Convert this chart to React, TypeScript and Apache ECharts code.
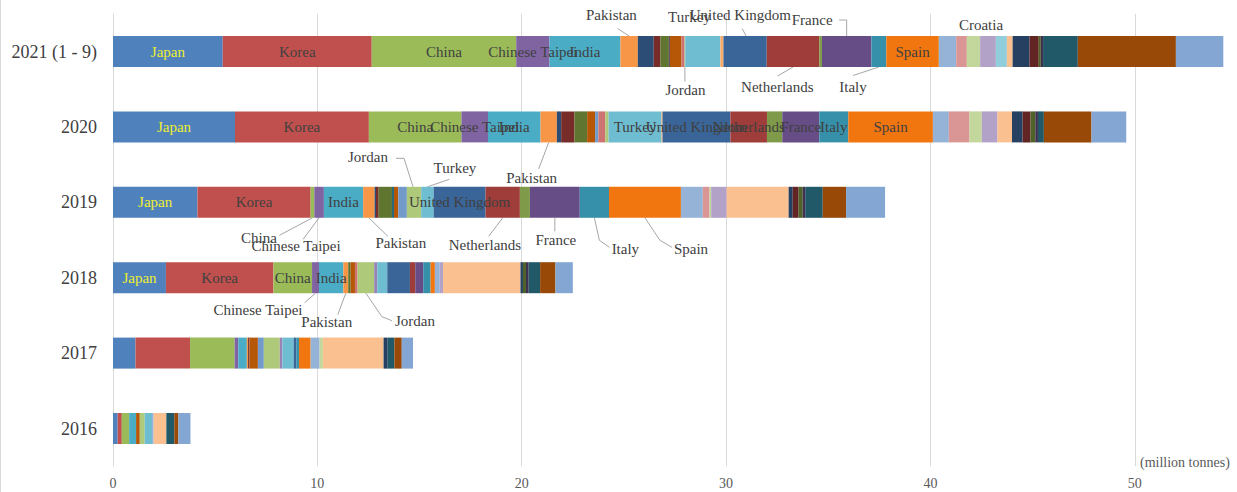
import { useEffect, useRef } from "react";
import * as echarts from "echarts";

// Years shown top to bottom
const years = ["2021 (1 - 9)", "2020", "2019", "2018", "2017", "2016"];

// Volumes by destination, million tonnes, ordered as years above
const japan = [5.37, 5.97, 4.13, 2.59, 1.1, 0.23];
const korea = [7.29, 6.55, 5.54, 5.26, 2.67, 0.2];
const china = [7.07, 4.53, 0.18, 1.89, 2.18, 0.36];
const chineseTaipei = [1.63, 1.3, 0.47, 0.34, 0.18, 0];
const india = [3.47, 2.57, 1.92, 1.19, 0.42, 0.34];
const pakistan = [0.85, 0.8, 0.56, 0.24, 0.06, 0];
const bangladesh = [0.78, 0.21, 0.07, 0, 0, 0];
const thailand = [0.33, 0.65, 0.13, 0, 0.07, 0];
const singapore = [0.41, 0.62, 0.65, 0.12, 0, 0];
const indonesia = [0.05, 0, 0, 0, 0, 0];
const uae = [0, 0, 0.1, 0, 0, 0];
const kuwait = [0.57, 0.39, 0.21, 0.21, 0.41, 0.18];
const egypt = [0, 0.16, 0.42, 0, 0.29, 0];
const israel = [0.15, 0.34, 0, 0.13, 0, 0];
const jordan = [0.03, 0.16, 0.7, 0.81, 0.78, 0.24];
const malta = [0, 0, 0, 0.15, 0.13, 0];
const turkey = [1.72, 2.59, 0.61, 0.49, 0.55, 0.36];
const greece = [0.15, 0.05, 0, 0, 0, 0];
const unitedKingdom = [2.12, 3.32, 2.54, 1.11, 0.13, 0];
const netherlands = [2.57, 1.79, 1.68, 0.26, 0, 0];
const belgium = [0.13, 0.75, 0.49, 0, 0, 0];
const france = [2.42, 1.81, 2.44, 0.39, 0, 0];
const italy = [0.73, 1.42, 1.43, 0.36, 0.13, 0];
const spain = [2.57, 4.14, 3.52, 0.21, 0.57, 0];
const portugal = [0.85, 0.78, 1.07, 0.24, 0.44, 0.08];
const poland = [0.52, 1.01, 0.33, 0, 0, 0];
const lithuania = [0.65, 0.6, 0.08, 0, 0.16, 0];
const croatia = [0.77, 0.77, 0.76, 0.16, 0, 0];
const otherEurope = [0.54, 0, 0, 0, 0, 0];
const mexico = [0.28, 0.71, 3.03, 3.79, 2.97, 0.62];
const dominicanRepublic = [0.83, 0.52, 0.2, 0.12, 0.2, 0];
const jamaica = [0.45, 0.39, 0.29, 0, 0, 0];
const panama = [0.1, 0.23, 0.2, 0.15, 0, 0];
const colombia = [0.11, 0.13, 0.12, 0.13, 0, 0];
const chile = [1.7, 0.29, 0.86, 0.56, 0.33, 0.39];
const brazil = [4.8, 2.33, 1.14, 0.75, 0.36, 0.2];
const others = [2.32, 1.7, 1.91, 0.85, 0.55, 0.59];

const destinations = [
  { name: "Japan", values: japan, color: "#4F81BD" },
  { name: "Korea", values: korea, color: "#C0504D" },
  { name: "China", values: china, color: "#9BBB59" },
  { name: "Chinese Taipei", values: chineseTaipei, color: "#8064A2" },
  { name: "India", values: india, color: "#4BACC6" },
  { name: "Pakistan", values: pakistan, color: "#F79646" },
  { name: "Bangladesh", values: bangladesh, color: "#2C4D75" },
  { name: "Thailand", values: thailand, color: "#772C2A" },
  { name: "Singapore", values: singapore, color: "#5F7530" },
  { name: "Indonesia", values: indonesia, color: "#4D3B62" },
  { name: "UAE", values: uae, color: "#276A7C" },
  { name: "Kuwait", values: kuwait, color: "#B65708" },
  { name: "Egypt", values: egypt, color: "#729ACA" },
  { name: "Israel", values: israel, color: "#CD7371" },
  { name: "Jordan", values: jordan, color: "#AFC97A" },
  { name: "Malta", values: malta, color: "#9983B5" },
  { name: "Turkey", values: turkey, color: "#6FBDD1" },
  { name: "Greece", values: greece, color: "#F9AB6B" },
  { name: "United Kingdom", values: unitedKingdom, color: "#3A6599" },
  { name: "Netherlands", values: netherlands, color: "#9E3D3A" },
  { name: "Belgium", values: belgium, color: "#7F9A48" },
  { name: "France", values: france, color: "#664D86" },
  { name: "Italy", values: italy, color: "#3790AA" },
  { name: "Spain", values: spain, color: "#F2760F" },
  { name: "Portugal", values: portugal, color: "#95B3D7" },
  { name: "Poland", values: poland, color: "#D99694" },
  { name: "Lithuania", values: lithuania, color: "#C3D69B" },
  { name: "Croatia", values: croatia, color: "#B2A2C7" },
  { name: "Other Europe", values: otherEurope, color: "#92CDDC" },
  { name: "Mexico", values: mexico, color: "#FAC090" },
  { name: "Dominican Republic", values: dominicanRepublic, color: "#254061" },
  { name: "Jamaica", values: jamaica, color: "#632523" },
  { name: "Panama", values: panama, color: "#4F6228" },
  { name: "Colombia", values: colombia, color: "#403151" },
  { name: "Chile", values: chile, color: "#215968" },
  { name: "Brazil", values: brazil, color: "#984807" },
  { name: "Others", values: others, color: "#84A6D2" },
];

// Names written inside their segment (indexes into years)
const insideLabels: Record<string, number[]> = {
  Japan: [0, 1, 2, 3],
  Korea: [0, 1, 2, 3],
  China: [0, 1, 3],
  "Chinese Taipei": [0, 1],
  India: [0, 1, 2, 3],
  Turkey: [1],
  "United Kingdom": [1, 2],
  Netherlands: [1],
  France: [1],
  Italy: [1],
  Spain: [0, 1],
};

// Names written outside the bar: text offset and leader points, relative to the segment centre
type Callout = { year: number; name: string; dx: number; dy: number; line?: number[][] };
const callouts: Callout[] = [
  { year: 0, name: "Pakistan", dx: -17.7, dy: -36.5, line: [[0, -15.5], [-11.5, -23]] },
  { year: 0, name: "Turkey", dx: -13.4, dy: -34.5 },
  { year: 0, name: "United Kingdom", dx: -4.7, dy: -36.5, line: [[1, -15.5], [-3, -23]] },
  { year: 0, name: "France", dx: -34.5, dy: -31.5, line: [[0, -15.5], [0, -31.5], [-7.5, -31.5]] },
  { year: 0, name: "Croatia", dx: -7, dy: -26.5 },
  { year: 0, name: "Jordan", dx: 0.5, dy: 38.5, line: [[0, 15.5], [0, 30]] },
  { year: 0, name: "Netherlands", dx: -15.7, dy: 35.8, line: [[0, 15.5], [-15.5, 24.5]] },
  { year: 0, name: "Italy", dx: -25.8, dy: 35.2, line: [[0, 15.5], [-25.8, 24]] },
  { year: 1, name: "Pakistan", dx: -17, dy: 51, line: [[0, 15.5], [-10, 42]] },
  { year: 2, name: "China", dx: -53.5, dy: 36, line: [[0, 15.5], [-33, 33]] },
  { year: 2, name: "Chinese Taipei", dx: -23, dy: 44, line: [[0, 15.5], [-16, 37]] },
  { year: 2, name: "Pakistan", dx: 32, dy: 41, line: [[0, 15.5], [19, 34]] },
  { year: 2, name: "Jordan", dx: -46, dy: -45, line: [[-1, -15.5], [-10, -44], [-18, -44]] },
  { year: 2, name: "Turkey", dx: 27.5, dy: -34, line: [[0, -15.5], [22, -23]] },
  { year: 2, name: "Netherlands", dx: -17.8, dy: 43, line: [[0, 15.5], [-14, 34]] },
  { year: 2, name: "France", dx: 1, dy: 38, line: [[0, 15.5], [0, 29]] },
  { year: 2, name: "Italy", dx: 31, dy: 47, line: [[0, 15.5], [5, 38], [15, 45]] },
  { year: 2, name: "Spain", dx: 46, dy: 47, line: [[0, 15.5], [15, 38], [27, 45]] },
  { year: 3, name: "Chinese Taipei", dx: -57.6, dy: 32, line: [[0, 15.5], [-11, 25]] },
  { year: 3, name: "Pakistan", dx: -19, dy: 44, line: [[0, 15.5], [-8, 37]] },
  { year: 3, name: "Jordan", dx: 49, dy: 43, line: [[0, 15.5], [16, 39], [26, 43]] },
];

const FONT = '"Liberation Serif", "Times New Roman", serif';
const TEXT = "#404040";
const GRID = "#d9d9d9";

export default function App() {
  const ref = useRef<HTMLDivElement>(null);

  useEffect(() => {
    if (!ref.current) return;
    const chart = echarts.init(ref.current, null, { renderer: "svg" });

    const series = destinations.map((d) => {
      const shown = insideLabels[d.name] || [];
      return {
        name: d.name,
        type: "bar",
        stack: "total",
        barWidth: 31,
        itemStyle: { color: d.color },
        label: {
          show: false,
          position: "inside",
          formatter: "{a}",
          fontFamily: FONT,
          fontSize: 15,
          color: d.name === "Japan" ? "#eeee30" : TEXT,
        },
        data: d.values.map((v, i) => (shown.includes(i) ? { value: v, label: { show: true } } : v)),
      };
    });

    chart.setOption({
      animation: false,
      grid: { left: 113, right: 0, top: 13.8, height: 452.4 },
      xAxis: {
        type: "value",
        min: 0,
        max: 55,
        interval: 10,
        axisLine: { show: false },
        axisTick: { show: false },
        splitLine: { showMaxLine: false, lineStyle: { color: GRID, width: 1 } },
        axisLabel: { fontFamily: FONT, fontSize: 14, color: "#595959", margin: 10, showMaxLabel: false },
      },
      yAxis: {
        type: "category",
        inverse: true,
        data: years,
        axisLine: { show: true, lineStyle: { color: GRID } },
        axisTick: { show: false },
        axisLabel: { fontFamily: FONT, fontSize: 18, color: TEXT, margin: 16 },
      },
      series,
    });

    // Callouts placed from each segment's centre
    const graphics: any[] = [];
    callouts.forEach((c, k) => {
      const idx = destinations.findIndex((d) => d.name === c.name);
      let start = 0;
      for (let j = 0; j < idx; j++) start += destinations[j].values[c.year];
      const v = destinations[idx].values[c.year];
      const p = chart.convertToPixel({ gridIndex: 0 }, [start + v / 2, c.year]) as number[];
      const [cx, cy] = p;
      if (c.line) {
        graphics.push({
          type: "polyline",
          id: "leader" + k,
          shape: { points: c.line.map(([x, y]) => [cx + x, cy + y]) },
          style: { stroke: "#a6a6a6", lineWidth: 1, fill: null },
          silent: true,
        });
      }
      graphics.push({
        type: "text",
        id: "callout" + k,
        x: cx + c.dx,
        y: cy + c.dy,
        style: {
          text: c.name,
          font: `15px ${FONT}`,
          fill: TEXT,
          align: "center",
          verticalAlign: "middle",
          textAlign: "center",
          textVerticalAlign: "middle",
        },
        silent: true,
      });
    });
    graphics.push({
      type: "text",
      id: "unit",
      x: 1140,
      y: 462,
      style: {
        text: "(million tonnes)",
        font: `14px ${FONT}`,
        fill: "#595959",
        align: "left",
        verticalAlign: "middle",
        textAlign: "left",
        textVerticalAlign: "middle",
      },
    });
    graphics.push({
      type: "line",
      id: "frame",
      shape: { x1: 0.5, y1: 0, x2: 0.5, y2: 492 },
      style: { stroke: GRID, lineWidth: 1 },
    });
    chart.setOption({ graphic: graphics });

    return () => chart.dispose();
  }, []);

  return (
    <div
      ref={ref}
      style={{ position: "absolute", left: 0, top: 0, width: 1237, height: 492, background: "#fff" }}
    />
  );
}
